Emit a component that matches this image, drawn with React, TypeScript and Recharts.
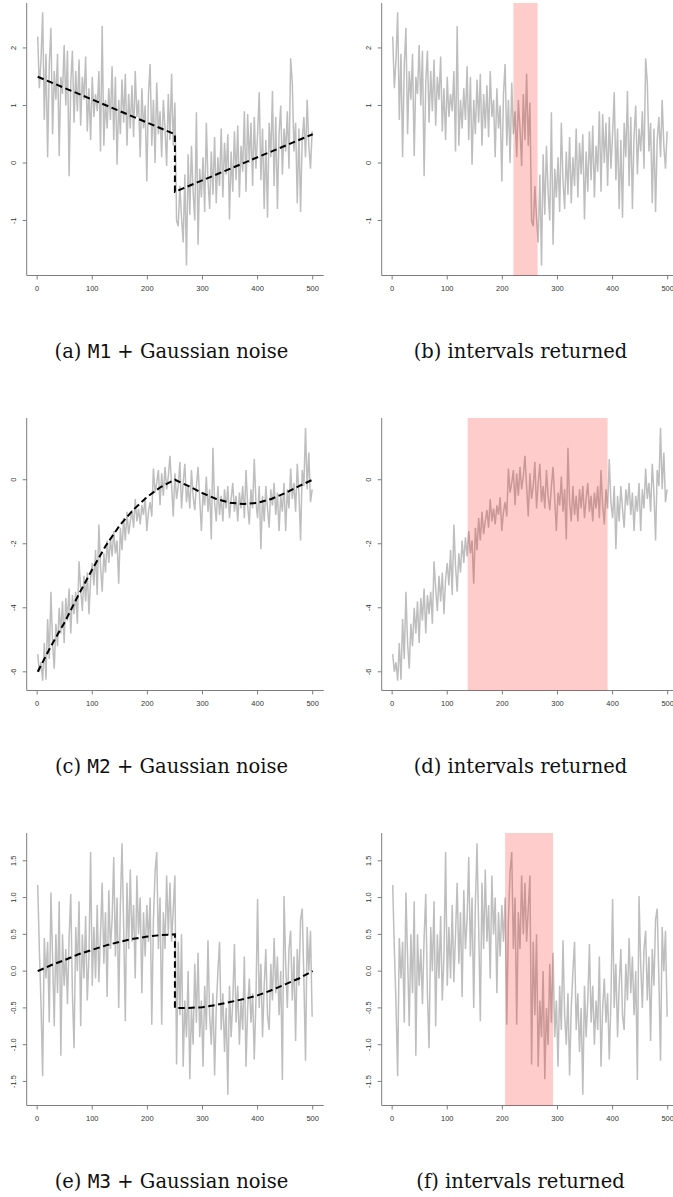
import React from 'react';
import { LineChart, Line, XAxis, YAxis, ReferenceArea } from 'recharts';

// observations are sampled every 3rd time index (t = 1, 4, 7, ... 499)
const obsStep = 3;

const xTicks = [0, 100, 200, 300, 400, 500];
const xDomain = [-18.96, 519.96];

const m1Obs = [
  2.2, 1.3, 1.8, 2.62, 0.75, 1.9, 0.1, 1.7, 2.35, 0.5,
  1.6, 1.1, 1.9, 0.12, 1.5, 1.2, 2.05, 1.0, 1.95, -0.23,
  1.4, 1.95, 0.7, 1.6, 0.9, 1.8, 0.65, 1.5, 1.1, 1.85,
  0.55, 1.3, 0.4, 1.5, 0.8, 1.2, 0.9, 1.6, 0.2, 2.38,
  0.3, 1.1, 0.6, 1.3, 0.75, 1.68, 0.4, 1.5, -0.03, 1.1,
  0.5, 1.45, 0.7, 1.55, 0.3, 1.2, 0.6, 1.35, 0.45, 1.6,
  0.8, 1.1, 0.1, 1.3, 0.6, 1.0, -0.32, 1.2, 1.72, 0.3,
  1.1, 0.0, 1.4, 0.5, 0.9, 0.1, 1.1, 0.6, -0.05, 1.2,
  0.4, 1.55, 0.3, 1.05, -1.0, -1.1, -0.4, -0.95, -1.38, -0.2,
  -1.78, 0.15, -0.9, 0.3, -0.5, -1.0, 0.88, -1.42, -0.1, -0.6,
  0.1, -0.85, 0.7, -0.3, -0.8, 0.2, -0.55, 0.45, -0.7, 0.1,
  -0.4, 0.6, -0.6, 0.35, -0.2, 0.5, -0.98, 0.2, -0.5, 0.55,
  -0.3, 0.65, -0.6, 0.3, -0.15, 0.9, -0.5, 0.85, 0.0, 0.7,
  -0.4, 0.8, -0.1, 0.5, 1.23, -0.3, 0.6, -0.8, 0.4, -0.95,
  0.7, 0.1, 1.25, -0.4, 0.8, -0.8, 0.5, 1.0, -0.2, 0.6,
  0.2, 0.9, -0.1, 1.82, 1.4, 0.2, 0.7, -0.7, 0.6, -0.85,
  0.4, 0.8, 0.1, 1.1, 0.3, -0.1, 0.55,
];

const m2Obs = [
  -5.45, -6.0, -5.7, -6.28, -5.1, -6.25, -4.35, -5.6, -3.5, -5.1,
  -5.9, -4.5, -5.2, -4.0, -4.8, -3.8, -5.1, -3.7, -4.4, -3.4,
  -4.8, -3.6, -4.2, -3.5, -4.5, -2.55, -3.4, -4.1, -3.0, -3.8,
  -2.9, -4.2, -3.1, -2.6, -3.3, -2.2, -3.6, -1.4, -2.7, -3.5,
  -2.3, -2.9, -1.9, -2.6, -1.8, -2.4, -1.6, -2.3, -1.9, -3.25,
  -1.5, -2.2, -1.2, -1.9, -1.0, -1.7, -1.3, -0.95, -1.5, -0.6,
  -1.3, -0.9, -1.4, -0.8, -1.1, -0.55, -1.6, -1.0, -0.7, -1.15,
  0.35, -0.4, -0.1, 0.3, -0.8, 0.2, -0.5, 0.4, -0.3, 0.1,
  0.75, -0.2, -1.15, 0.2, -0.6, -0.2, 0.55, -0.9, -0.1, 0.5,
  -0.7, -0.2, -0.9, 0.3, -0.5, -0.95, -0.2, 0.4, -0.6, -1.6,
  -0.4, -0.8, 0.1, -1.0, -0.3, -1.87, 1.0, -0.7, -1.3, -0.2,
  -1.1, -0.5, -1.3, -0.3, -0.9, -0.2, -1.2, -0.6, -0.1, -1.0,
  -0.5, -1.3, -0.4, -0.9, -0.2, -1.2, 0.3, -0.8, -1.4, -0.3,
  -0.9, 0.65, -0.7, -1.2, -0.2, -2.17, -0.5, -1.3, -0.2, -0.9,
  -1.5, -0.3, -0.8, -0.1, -1.1, -0.4, -1.6, -0.5, -1.0, -0.1,
  -1.6, -0.3, -0.9, 0.35, -0.6, -0.1, -1.0, 0.5, -0.4, -1.9,
  0.3, -0.2, 1.62, -0.3, 0.85, -0.7, -0.3,
];

const m3Obs = [
  1.17, 0.3, -0.45, -1.43, 0.45, -0.1, 0.4, -0.7, 1.07, 0.2,
  -0.75, 0.5, -0.3, 0.95, -1.15, 0.5, -0.2, 0.3, -0.45, 0.45,
  1.05, -0.3, -1.05, 0.6, 0.0, 0.95, -0.75, 0.5, -0.1, 0.75,
  -0.4, 0.2, 1.62, -0.2, 0.6, -0.1, 0.9, -0.15, 0.5, 1.2,
  0.1, 0.8, -0.35, 1.1, 0.3, 0.7, 1.55, 0.2, 1.0, -0.5,
  0.9, 1.74, 0.6, -0.68, 1.2, 0.3, 1.38, 0.4, 0.9, -0.1,
  1.3, 0.5, 1.0, -0.3, 0.8, 0.2, 0.9, 0.4, 1.0, -0.73,
  0.7, 1.35, 1.62, 0.3, 1.0, -0.73, 0.8, 0.3, 1.3, 0.5,
  1.2, 0.4, 0.85, 1.3, -1.27, 0.4, -0.6, 0.5, -1.3, -0.4,
  -0.9, 0.0, -1.47, -0.5, -1.0, 0.1, -0.7, 0.25, -0.9, -0.4,
  -1.3, -0.2, -0.8, 0.42, -0.6, -1.0, -0.3, -1.42, -0.5, 0.0,
  0.4, -0.8, -0.3, -1.1, -0.5, -1.68, -0.2, -0.9, -0.4, 0.37,
  -0.7, -0.2, -1.0, -0.4, -0.8, 0.2, -1.3, -0.5, -0.1, -0.7,
  -0.3, -1.2, -0.4, 0.98, -0.5, 0.1, -0.9, -0.2, 0.3, -0.6,
  -0.8, 0.1, -0.4, 0.45, -0.3, 0.2, -0.6, 0.0, -1.48, 1.02,
  0.1, -0.5, 0.3, 0.55, -0.4, 0.2, -0.95, 0.3, -0.2, 0.7,
  0.85, -0.1, -1.22, 0.6, 0.0, 0.55, -0.62,
];

// true signals (dashed)
const m1SigT = [1, 250, 250, 500];
const m1SigV = [1.5, 0.5, -0.5, 0.5];

const m2SigT = [1, 25, 50, 75, 100, 125, 150, 175, 200, 225, 250, 275, 300, 325, 350, 375, 400, 425, 450, 475, 500];
const m2SigV = [-6, -5.2, -4.45, -3.6, -2.8, -2.05, -1.42, -0.93, -0.53, -0.22, 0, -0.2, -0.42, -0.6, -0.72, -0.76, -0.72, -0.6, -0.42, -0.2, 0];

const m3SigT = [1, 25, 50, 75, 100, 125, 150, 175, 200, 225, 250, 250, 275, 300, 325, 350, 375, 400, 425, 450, 475, 500];
const m3SigV = [0, 0.08, 0.15, 0.23, 0.29, 0.35, 0.4, 0.44, 0.47, 0.49, 0.5, -0.5, -0.5, -0.49, -0.46, -0.42, -0.38, -0.33, -0.26, -0.18, -0.1, 0];

// intervals returned (shaded)
const m1Interval = [220, 264];
const m2Interval = [137, 391];
const m3Interval = [205, 292];

const m1YTicks = [-1, 0, 1, 2];
const m2YTicks = [-6, -4, -2, 0];
const m3YTicks = [-1.5, -1, -0.5, 0, 0.5, 1, 1.5];

const models = ['M1', 'M2', 'M3'];
const leftLetters = ['a', 'c', 'e'];
const rightLetters = ['b', 'd', 'f'];

// layout
const YW = 26.7;
const PW = 297;
const PH = 272.5;
const MT = 5;
const XH = 20;
const CW = YW + PW + 6;
const CH = MT + PH + XH;
const rowTops = [3.3, 418.3, 833.3];
const colLefts = [0, 382 - YW];
const capBase = [358, 773, 1188];
const capX = [171.5, 520.5];

const frame = '#7d7d7d';
const tickFont = '"Liberation Sans", Arial, sans-serif';

const XTick = (props: any) => {
  const { x, y, payload } = props;
  return (
    <text x={x} y={y + 9} textAnchor="middle" dominantBaseline="central" fontSize={7.5} fontFamily={tickFont} fill="#333">
      {payload.value}
    </text>
  );
};

const makeYTick = (fmt: (v: number) => string) => (props: any) => {
  const { x, y, payload } = props;
  const cx = x - 9.4;
  return (
    <text x={cx} y={y} transform={`rotate(-90 ${cx} ${y})`} textAnchor="middle" dominantBaseline="central" fontSize={7.5} fontFamily={tickFont} fill="#333">
      {fmt(payload.value)}
    </text>
  );
};

interface PanelProps {
  left: number;
  top: number;
  obs: number[];
  sigT?: number[];
  sigV?: number[];
  band?: number[];
  yDomain: number[];
  yTicks: number[];
  fmt: (v: number) => string;
}

function Panel({ left, top, obs, sigT, sigV, band, yDomain, yTicks, fmt }: PanelProps) {
  const data = obs.map((v, i) => ({ t: 1 + i * obsStep, y: v }));
  const sig = sigT && sigV ? sigT.map((t, i) => ({ t, s: sigV[i] })) : null;
  const YTick = makeYTick(fmt);
  return (
    <div style={{ position: 'absolute', left, top: top - MT, width: CW, height: CH }}>
      <LineChart width={CW} height={CH} data={data} margin={{ top: MT, right: 6, bottom: 0, left: 0 }}>
        <XAxis
          dataKey="t"
          type="number"
          domain={xDomain}
          allowDataOverflow
          ticks={xTicks}
          height={XH}
          tickSize={4}
          tickMargin={0}
          tick={<XTick />}
          axisLine={{ stroke: frame }}
          tickLine={{ stroke: frame }}
        />
        <XAxis xAxisId="top" orientation="top" type="number" domain={xDomain} allowDataOverflow height={0} tick={false} tickLine={false} axisLine={{ stroke: frame }} />
        <YAxis
          type="number"
          domain={yDomain}
          allowDataOverflow
          ticks={yTicks}
          width={YW}
          tickSize={4}
          tickMargin={0}
          tick={<YTick />}
          axisLine={{ stroke: frame }}
          tickLine={{ stroke: frame }}
        />
        <YAxis yAxisId="right" orientation="right" type="number" domain={yDomain} allowDataOverflow width={0} tick={false} tickLine={false} axisLine={{ stroke: frame }} />
        <Line dataKey="y" stroke="#bebebe" strokeWidth={1.5} dot={false} isAnimationActive={false} />
        {sig && (
          <Line data={sig} dataKey="s" stroke="#000" strokeWidth={2} strokeDasharray="6.5 3.5" dot={false} isAnimationActive={false} />
        )}
      </LineChart>
      {band && (
        // the returned interval is shaded over the series, as in the original
        <div style={{ position: 'absolute', left: 0, top: 0 }}>
          <LineChart width={CW} height={CH} data={data} margin={{ top: MT, right: 6, bottom: XH, left: YW }}>
            <XAxis dataKey="t" type="number" domain={xDomain} allowDataOverflow hide />
            <YAxis type="number" domain={yDomain} allowDataOverflow hide />
            <ReferenceArea x1={band[0]} x2={band[1]} fill="#ff0000" fillOpacity={0.2} stroke="none" />
          </LineChart>
        </div>
      )}
    </div>
  );
}

const fmtInt = (v: number) => String(v);
const fmt1 = (v: number) => v.toFixed(1);

export default function App() {
  const rows = [
    { obs: m1Obs, sigT: m1SigT, sigV: m1SigV, band: m1Interval, yDomain: [-1.955, 2.781], yTicks: m1YTicks, fmt: fmtInt },
    { obs: m2Obs, sigT: m2SigT, sigV: m2SigV, band: m2Interval, yDomain: [-6.584, 1.928], yTicks: m2YTicks, fmt: fmtInt },
    { obs: m3Obs, sigT: m3SigT, sigV: m3SigV, band: m3Interval, yDomain: [-1.827, 1.878], yTicks: m3YTicks, fmt: fmt1 },
  ];
  return (
    <div style={{ position: 'absolute', left: 0, top: 0, width: 673, height: 1197, overflow: 'hidden', background: '#fff' }}>
      {rows.map((r, i) => (
        <React.Fragment key={i}>
          <Panel left={colLefts[0]} top={rowTops[i]} obs={r.obs} sigT={r.sigT} sigV={r.sigV} yDomain={r.yDomain} yTicks={r.yTicks} fmt={r.fmt} />
          <Panel left={colLefts[1]} top={rowTops[i]} obs={r.obs} band={r.band} yDomain={r.yDomain} yTicks={r.yTicks} fmt={r.fmt} />
        </React.Fragment>
      ))}
      <svg width={673} height={1197} style={{ position: 'absolute', left: 0, top: 0, pointerEvents: 'none' }}>
        {rows.map((_, i) => (
          <React.Fragment key={i}>
            <text x={capX[0]} y={capBase[i]} textAnchor="middle" fontSize={19.5} fontFamily='"DejaVu Serif", serif' fill="#111">
              ({leftLetters[i]}) <tspan fontFamily='"DejaVu Sans Mono", monospace'>{models[i]}</tspan> + Gaussian noise
            </text>
            <text x={capX[1]} y={capBase[i]} textAnchor="middle" fontSize={19.5} fontFamily='"DejaVu Serif", serif' fill="#111">
              ({rightLetters[i]}) intervals returned
            </text>
          </React.Fragment>
        ))}
      </svg>
    </div>
  );
}
